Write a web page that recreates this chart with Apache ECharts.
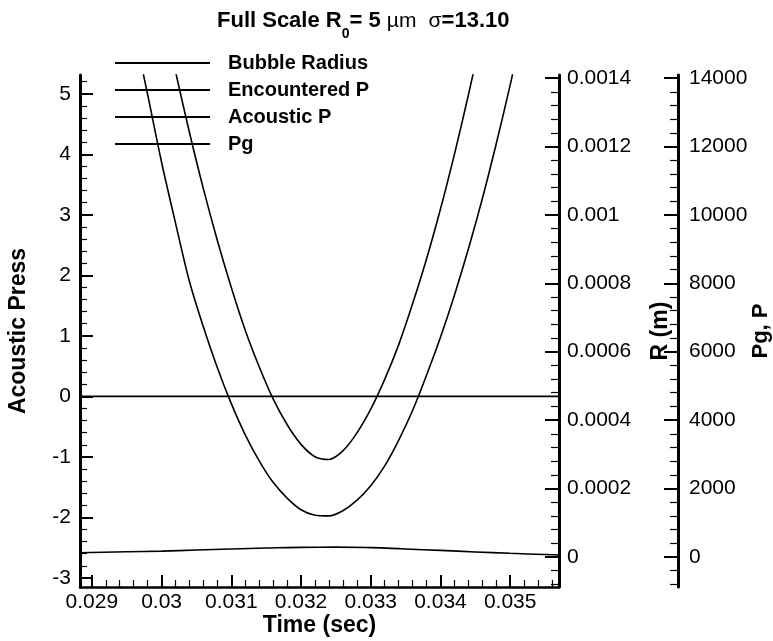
<!DOCTYPE html>
<html>
<head>
<meta charset="utf-8">
<script src="https://cdn.jsdelivr.net/npm/echarts@6/dist/echarts.min.js"></script>
<style>
html,body{margin:0;padding:0;background:#fff;}
#chart{width:773px;height:641px;}
</style>
</head>
<body>
<div id="chart"></div>
<script>
// ---- data ----
const timeEnc = [0.0294,0.0296,0.0298,0.0300,0.0302,0.0304,0.0306,0.0308,0.0310,0.0312,0.0314,0.0316,0.0318,0.0320,0.0322,0.0324,0.0326,0.0328,0.0330,0.0332,0.0334,0.0336,0.0338,0.0340,0.0342,0.0344,0.0346,0.0348,0.0350,0.0352];
const encounteredP = [17500,15460,13520,11540,9760,8050,6720,5530,4480,3570,2810,2180,1720,1380,1220,1200,1350,1650,2080,2660,3410,4280,5310,6420,7650,9000,10470,12080,13800,15630];
const timePg = [0.0300,0.0302,0.0304,0.0306,0.0308,0.0310,0.0312,0.0314,0.0316,0.0318,0.0320,0.0322,0.0324,0.0326,0.0328,0.0330,0.0332,0.0334,0.0336,0.0338,0.0340,0.0342,0.0344,0.0346];
const pgValues = [16080,14190,12410,10760,9250,7880,6630,5560,4620,3870,3290,2930,2850,3100,3620,4320,5190,6200,7400,8710,10170,11770,13500,15350];
const timeAc = [0.0288,0.0300,0.0310,0.0320,0.0330,0.0340,0.0350,0.0358];
const acousticP = [0,0,0,0,0,0,0,0];
const timeR = [0.0288,0.0295,0.0300,0.0305,0.0310,0.0315,0.0320,0.0325,0.0330,0.0335,0.0340,0.0345,0.0350,0.0355,0.0358];
const bubbleRadius = [1.2e-5,1.5e-5,1.7e-5,2.0e-5,2.3e-5,2.6e-5,2.8e-5,2.85e-5,2.7e-5,2.3e-5,1.9e-5,1.45e-5,1.05e-5,7e-6,5e-6];

const xTicks = [0.029,0.030,0.031,0.032,0.033,0.034,0.035];
const leftTicks = [-3,-2,-1,0,1,2,3,4,5];
const rTicks = [0,0.0002,0.0004,0.0006,0.0008,0.0010,0.0012,0.0014];
const pgTicks = [0,2000,4000,6000,8000,10000,12000,14000];
const seriesNames = ['Bubble Radius','Encountered P','Acoustic P','Pg'];

// minor tick positions (between the major ticks)
function minors(majors, step, n, lo, hi) {
  const out = [];
  const first = majors[0] - step, last = majors[majors.length-1] + step;
  for (let m = first; m <= last + 1e-12; m += step) {
    for (let k = 1; k < n; k++) {
      const v = +(m + k*step/n).toPrecision(10);
      if (v > lo && v < hi) out.push(v);
    }
  }
  return out;
}

const X_MIN = 0.02883, X_MAX = 0.0357;
const L_MIN = -3.15, L_MAX = 5.31;
const R_MIN = -0.000088, R_MAX = 0.001409;
const P_MIN = -880, P_MAX = 14090;

const BOLD = '"Liberation Sans",Arial,sans-serif';
const REG = '"Liberation Sans",Arial,sans-serif';

function pair(ts, vs){ return ts.map((t,i)=>[t,vs[i]]); }
function trim(d){ return v => parseFloat(v.toFixed(d)).toString(); }

const chart = echarts.init(document.getElementById('chart'), null, {renderer:'canvas'});

const yMajor = (opts) => Object.assign({
  type:'value', splitLine:{show:false},
  axisLine:{show:true, onZero:false, lineStyle:{color:'#000', width:3}},
  nameTextStyle:{color:'#000', fontFamily:BOLD, fontWeight:'bold', fontSize:23},
  nameLocation:'middle', nameRotate:90, nameMoveOverlap:false
}, opts);
const yMinor = (opts) => Object.assign({
  type:'value', splitLine:{show:false},
  axisLine:{show:false, onZero:false}, axisLabel:{show:false}
}, opts);

const option = {
  backgroundColor:'#fff',
  animation:false,
  title:{
    left:217, top:10, padding:0,
    text:'Full Scale R{sub|0}= 5 {g|µm}  {g|σ}=13.10',
    textStyle:{
      color:'#000', fontFamily:BOLD, fontWeight:'bold', fontSize:22,
      rich:{
        sub:{fontFamily:BOLD, fontWeight:'bold', fontSize:14, color:'#000', verticalAlign:'bottom', padding:[0,0,-9,0]},
        g:{fontFamily:REG, fontWeight:'normal', fontSize:21, color:'#000'}
      }
    }
  },
  legend:{
    data:seriesNames,
    orient:'vertical', left:115, top:53, padding:0,
    icon:'rect', itemWidth:95, itemHeight:2, itemGap:7,
    selectedMode:false,
    itemStyle:{color:'#000'},
    textStyle:{color:'#000', fontFamily:BOLD, fontWeight:'bold', fontSize:20, lineHeight:20, padding:[0,0,0,13]}
  },
  grid:{left:80, right:214, top:75, bottom:54, containLabel:false, outerBoundsMode:'none'},
  xAxis:[
    {type:'value', min:X_MIN, max:X_MAX, position:'bottom',
     name:'Time (sec)', nameLocation:'middle', nameGap:27, nameMoveOverlap:false,
     nameTextStyle:{color:'#000', fontFamily:BOLD, fontWeight:'bold', fontSize:23},
     splitLine:{show:false},
     axisLine:{show:true, onZero:false, lineStyle:{color:'#000', width:2.5}},
     axisTick:{show:true, inside:true, length:12, customValues:xTicks, lineStyle:{color:'#000', width:2}},
     axisLabel:{color:'#000', fontFamily:REG, fontSize:21, margin:5, customValues:xTicks, formatter:trim(3)}
    },
    {type:'value', min:X_MIN, max:X_MAX, position:'bottom', splitLine:{show:false},
     axisLine:{show:false, onZero:false}, axisLabel:{show:false},
     axisTick:{show:true, inside:true, length:7, customValues:minors(xTicks,0.001,5,X_MIN,X_MAX), lineStyle:{color:'#000', width:1.2}}
    }
  ],
  yAxis:[
    yMajor({min:L_MIN, max:L_MAX, position:'left', name:'Acoustic Press', nameGap:50,
      axisTick:{show:true, inside:true, length:13, customValues:leftTicks, lineStyle:{color:'#000', width:2}},
      axisLabel:{color:'#000', fontFamily:REG, fontSize:21, margin:9, customValues:leftTicks}}),
    yMinor({min:L_MIN, max:L_MAX, position:'left',
      axisTick:{show:true, inside:true, length:7, customValues:minors(leftTicks,1,5,L_MIN,L_MAX), lineStyle:{color:'#000', width:1.2}}}),
    yMajor({min:R_MIN, max:R_MAX, position:'right', name:'R (m)', nameGap:90,
      axisTick:{show:true, inside:true, length:14, customValues:rTicks, lineStyle:{color:'#000', width:2}},
      axisLabel:{color:'#000', fontFamily:REG, fontSize:21, margin:8, customValues:rTicks, formatter:trim(4)}}),
    yMinor({min:R_MIN, max:R_MAX, position:'right',
      axisTick:{show:true, inside:true, length:8, customValues:minors(rTicks,0.0002,5,R_MIN,R_MAX), lineStyle:{color:'#000', width:1.2}}}),
    yMajor({min:P_MIN, max:P_MAX, position:'right', offset:119, name:'Pg, P', nameGap:72,
      nameTextStyle:{color:'#000', fontFamily:BOLD, fontWeight:'bold', fontSize:22},
      axisTick:{show:true, inside:true, length:14, customValues:pgTicks, lineStyle:{color:'#000', width:2}},
      axisLabel:{color:'#000', fontFamily:REG, fontSize:21, margin:11, customValues:pgTicks, formatter:v=>String(v)}}),
    yMinor({min:P_MIN, max:P_MAX, position:'right', offset:119,
      axisTick:{show:true, inside:true, length:8, customValues:minors(pgTicks,2000,5,P_MIN,P_MAX), lineStyle:{color:'#000', width:1.2}}})
  ],
  series:[
    {name:'Bubble Radius', type:'line', xAxisIndex:0, yAxisIndex:2, data:pair(timeR,bubbleRadius),
     smooth:true, symbol:'none', lineStyle:{color:'#000', width:1.6}, itemStyle:{color:'#000'}},
    {name:'Encountered P', type:'line', xAxisIndex:0, yAxisIndex:4, data:pair(timeEnc,encounteredP),
     smooth:0.3, symbol:'none', lineStyle:{color:'#000', width:1.6}, itemStyle:{color:'#000'}},
    {name:'Acoustic P', type:'line', xAxisIndex:0, yAxisIndex:0, data:pair(timeAc,acousticP),
     smooth:false, symbol:'none', lineStyle:{color:'#000', width:1.6}, itemStyle:{color:'#000'}},
    {name:'Pg', type:'line', xAxisIndex:0, yAxisIndex:4, data:pair(timePg,pgValues),
     smooth:0.3, symbol:'none', lineStyle:{color:'#000', width:1.6}, itemStyle:{color:'#000'}}
  ]
};
chart.setOption(option);
</script>
</body>
</html>
